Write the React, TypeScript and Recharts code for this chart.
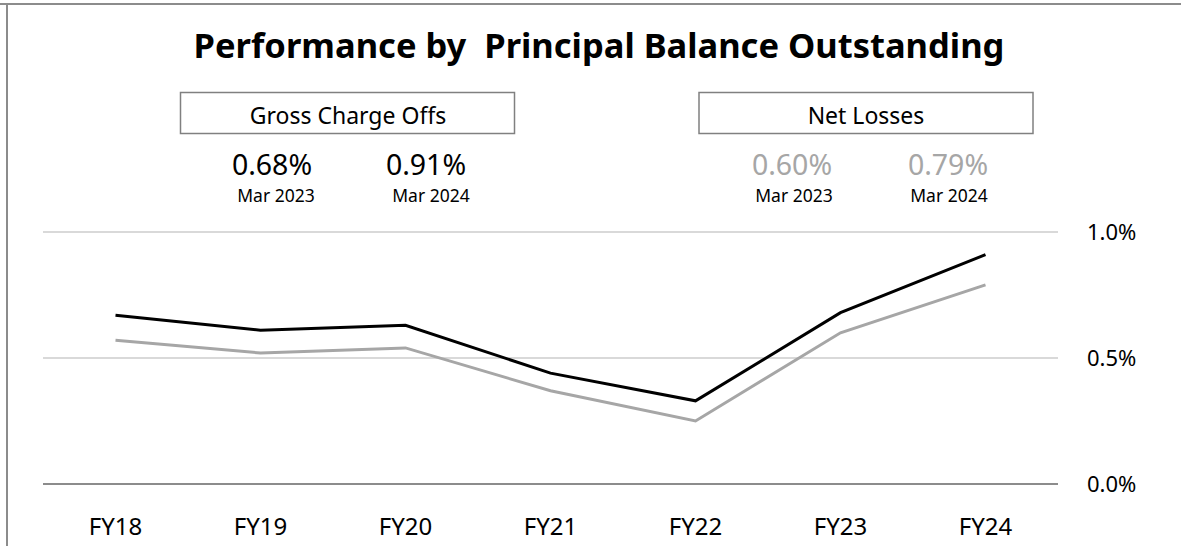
import { CartesianGrid, Line, LineChart, XAxis, YAxis } from "recharts";

const years = ["FY18", "FY19", "FY20", "FY21", "FY22", "FY23", "FY24"];
const grossChargeOffs = [0.67, 0.61, 0.63, 0.44, 0.33, 0.68, 0.91];
const netLosses = [0.57, 0.52, 0.54, 0.37, 0.25, 0.6, 0.79];
const yTicks = [0, 0.5, 1];

const data = years.map((year, i) => ({
  year,
  gco: grossChargeOffs[i],
  net: netLosses[i],
}));

const FONT = "'Noto Sans', 'Open Sans', sans-serif";

const XTick = (props: any) => {
  const { x, payload } = props;
  return (
    <text x={x} y={535} textAnchor="middle" fontSize={24} fill="#000" fontFamily={FONT}>
      {payload.value}
    </text>
  );
};

const YTick = (props: any) => {
  const { y, payload } = props;
  return (
    <text x={1087} y={y + 8} textAnchor="start" fontSize={22} fill="#000" fontFamily={FONT}>
      {payload.value.toFixed(1)}%
    </text>
  );
};

function Header() {
  return (
    <svg
      width={1181}
      height={546}
      style={{ position: "absolute", left: 0, top: 0, pointerEvents: "none" }}
    >
      <line x1={0} y1={4} x2={1181} y2={4} stroke="#8c8c8c" strokeWidth={2} />
      <line x1={7} y1={4} x2={7} y2={546} stroke="#8c8c8c" strokeWidth={2} />
      <text x={599} y={58} textAnchor="middle" fontSize={34.5} fontWeight={700} fontFamily={FONT} xmlSpace="preserve">
        Performance by  Principal Balance Outstanding
      </text>
      <rect x={180.5} y={92.5} width={334} height={41} fill="none" stroke="#808080" strokeWidth={1.5} />
      <text x={348} y={124} textAnchor="middle" fontSize={23} fontFamily={FONT}>
        Gross Charge Offs
      </text>
      <rect x={699} y={92.5} width={334} height={41} fill="none" stroke="#808080" strokeWidth={1.5} />
      <text x={866} y={124} textAnchor="middle" fontSize={23} fontFamily={FONT}>
        Net Losses
      </text>
      <text x={272} y={174.5} textAnchor="middle" fontSize={28.5} fontFamily={FONT}>0.68%</text>
      <text x={276} y={202} textAnchor="middle" fontSize={17.5} fontFamily={FONT}>Mar 2023</text>
      <text x={426} y={174.5} textAnchor="middle" fontSize={28.5} fontFamily={FONT}>0.91%</text>
      <text x={431} y={202} textAnchor="middle" fontSize={17.5} fontFamily={FONT}>Mar 2024</text>
      <text x={792} y={174.5} textAnchor="middle" fontSize={28.5} fill="#a6a6a6" fontFamily={FONT}>0.60%</text>
      <text x={794} y={202} textAnchor="middle" fontSize={17.5} fontFamily={FONT}>Mar 2023</text>
      <text x={948} y={174.5} textAnchor="middle" fontSize={28.5} fill="#a6a6a6" fontFamily={FONT}>0.79%</text>
      <text x={949} y={202} textAnchor="middle" fontSize={17.5} fontFamily={FONT}>Mar 2024</text>
    </svg>
  );
}

export default function App() {
  return (
    <div style={{ position: "absolute", left: 0, top: 0, width: 1181, height: 546, background: "#fff" }}>
      <LineChart
        width={1181}
        height={546}
        data={data}
        margin={{ top: 232, right: 0, bottom: 0, left: 43 }}
      >
        <CartesianGrid vertical={false} stroke="#d9d9d9" strokeWidth={2} />
        <XAxis
          dataKey="year"
          height={62}
          padding={{ left: 72.5, right: 72.5 }}
          axisLine={{ stroke: "#8c8c8c", strokeWidth: 2 }}
          tickLine={false}
          tick={<XTick />}
          interval={0}
        />
        <YAxis
          orientation="right"
          width={123}
          domain={[0, 1]}
          ticks={yTicks}
          axisLine={false}
          tickLine={false}
          tick={<YTick />}
        />
        <Line
          dataKey="net"
          stroke="#a6a6a6"
          strokeWidth={3}
          dot={false}
          isAnimationActive={false}
        />
        <Line
          dataKey="gco"
          stroke="#000"
          strokeWidth={3}
          dot={false}
          isAnimationActive={false}
        />
      </LineChart>
      <Header />
    </div>
  );
}
